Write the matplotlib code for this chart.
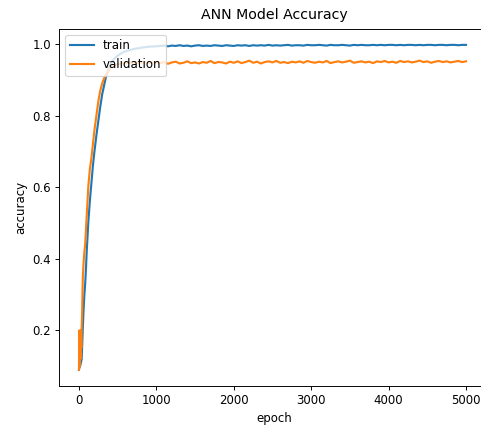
import numpy as np
import matplotlib
matplotlib.use("Agg")
import matplotlib.pyplot as plt

# early part of training
ep_early = [0, 5, 10, 15, 20, 25, 30, 35, 40, 45, 50, 60, 70, 80, 90, 100, 120, 140,
            160, 180, 200, 225, 250, 275, 300, 325, 350, 400, 450, 500, 550, 600,
            700, 800, 900, 1000]
train_early = [0.09, 0.095, 0.10, 0.10, 0.105, 0.11, 0.115, 0.12, 0.15, 0.18, 0.21,
               0.26, 0.30, 0.33, 0.37, 0.42, 0.50, 0.56, 0.61, 0.66, 0.70, 0.745,
               0.785, 0.825, 0.86, 0.885, 0.91, 0.94, 0.958, 0.968, 0.975, 0.980,
               0.986, 0.990, 0.993, 0.994]
val_early = [0.09, 0.20, 0.10, 0.19, 0.12, 0.20, 0.15, 0.21, 0.24, 0.30, 0.35, 0.39,
             0.42, 0.44, 0.48, 0.52, 0.60, 0.65, 0.68, 0.72, 0.76, 0.80, 0.84, 0.87,
             0.89, 0.905, 0.915, 0.932, 0.940, 0.944, 0.946, 0.947, 0.948, 0.949,
             0.948, 0.949]

# plateau, every 50 epochs from 1050 to 5000
ep_plateau = np.arange(1050, 5001, 50)
train_plateau = [
    0.995, 0.996, 0.994, 0.996, 0.995, 0.997, 0.995, 0.996, 0.994, 0.996,
    0.997, 0.995, 0.996, 0.995, 0.997, 0.996, 0.995, 0.997, 0.996, 0.995,
    0.997, 0.996, 0.997, 0.995, 0.997, 0.996, 0.997, 0.996, 0.998, 0.996,
    0.997, 0.996, 0.997, 0.998, 0.996, 0.997, 0.997, 0.996, 0.998, 0.997,
    0.997, 0.998, 0.997, 0.996, 0.998, 0.997, 0.997, 0.998, 0.997, 0.996,
    0.998, 0.997, 0.998, 0.997, 0.997, 0.998, 0.997, 0.998, 0.997, 0.998,
    0.998, 0.997, 0.998, 0.997, 0.998, 0.998, 0.997, 0.998, 0.997, 0.998,
    0.998, 0.997, 0.998, 0.998, 0.997, 0.998, 0.998, 0.997, 0.998, 0.998]
val_plateau = [
    0.947, 0.950, 0.945, 0.949, 0.951, 0.946, 0.948, 0.952, 0.947, 0.949,
    0.946, 0.950, 0.948, 0.953, 0.947, 0.950, 0.949, 0.946, 0.951, 0.948,
    0.952, 0.947, 0.950, 0.954, 0.948, 0.951, 0.946, 0.950, 0.952, 0.949,
    0.953, 0.948, 0.950, 0.947, 0.951, 0.949, 0.952, 0.948, 0.953, 0.950,
    0.948, 0.951, 0.949, 0.953, 0.947, 0.950, 0.952, 0.949, 0.951, 0.954,
    0.948, 0.950, 0.952, 0.949, 0.951, 0.947, 0.952, 0.950, 0.953, 0.949,
    0.951, 0.948, 0.953, 0.950, 0.952, 0.949, 0.951, 0.954, 0.950, 0.952,
    0.948, 0.951, 0.953, 0.950, 0.952, 0.949, 0.951, 0.953, 0.950, 0.952]

epochs = np.concatenate([ep_early, ep_plateau])
train = np.concatenate([train_early, train_plateau])
val = np.concatenate([val_early, val_plateau])

# reference was rendered at a lower dpi, so everything is a bit smaller
fig = plt.figure(figsize=(481 / 85, 428 / 85), dpi=85)
# right side of the axes is cut off in the reference image
ax = fig.add_axes([0.1233, 0.0981, 0.8938, 0.835])
ax.plot(epochs, train, label="train", linewidth=1.8)
ax.plot(epochs, val, label="validation", linewidth=1.8)
ax.set_xlim(-254, 5300)
ax.spines["right"].set_visible(False)
ax.set_title("ANN Model Accuracy", pad=8.5)
ax.set_xlabel("epoch")
ax.set_ylabel("accuracy")
ax.legend(loc="upper left")

fig.savefig("out.png", dpi=85)
